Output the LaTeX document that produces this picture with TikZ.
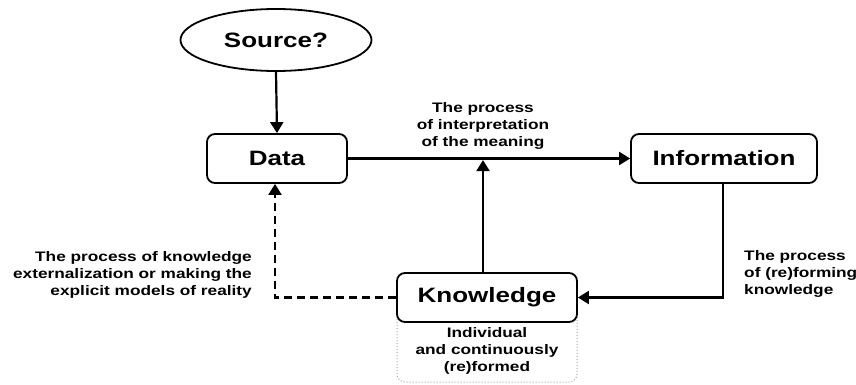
\documentclass[tikz,border=0pt]{standalone}
\usepackage{fontspec}
\setmainfont{Liberation Sans}[FakeStretch=1.25]
\usetikzlibrary{arrows.meta,shapes.geometric}
\tikzset{
  box/.style={draw=black,line width=1.8pt,rounded corners=8pt,fill=white,inner sep=0pt,font=\fontsize{20.8}{24}\selectfont\bfseries},
  conn/.style={line width=2.2pt,-{Triangle[width=13pt,length=11pt]}},
  lbl/.style={font=\fontsize{13.8}{17}\selectfont\bfseries,inner sep=0pt},
}
\begin{document}
\begin{tikzpicture}[x=1pt,y=-1pt]
\useasboundingbox (0,0) rectangle (856,385);
% dotted note box
\draw[gray!70,line width=1pt,dotted,rounded corners=8pt] (397,290) rectangle (577,382);
\node[box,ellipse,minimum width=191pt,minimum height=62pt,font=\fontsize{20.8}{24}\selectfont\bfseries] (src) at (276,40) {Source?};
\node[box,minimum width=140pt,minimum height=49pt] (data) at (277,158.5) {Data};
\node[box,minimum width=186pt,minimum height=49pt] (info) at (724,158.5) {Information};
\node[box,minimum width=180pt,minimum height=49pt] (know) at (487,297.5) {Knowledge};
\coordinate (mid) at ([xshift=-4pt]know.north);
\coordinate (midtop) at ([yshift=-1.6pt]mid |- data.east);
\draw[conn] (src.south) -- (data.north);
\draw[conn] (data.east) -- (info.west);
\draw[conn] ([xshift=-1pt]info.south) |- (know.east);
\draw[conn] (mid) -- (midtop);
\draw[conn,dash pattern=on 8pt off 5pt] (know.west) -| ([xshift=-2pt]data.south);
\node[lbl,align=center] (t1) at (483,126) {The process\\of interpretation\\of the meaning};
\node[lbl,align=right,anchor=east] (t2) at (252,275) {The process of knowledge\\externalization or making the\\explicit models of reality};
\node[lbl,align=left,anchor=west] (t3) at (744,274) {The process\\of (re)forming\\knowledge};
\node[lbl,align=center] (t4) at (487,351) {Individual\\and continuously\\(re)formed};
\end{tikzpicture}
\end{document}
